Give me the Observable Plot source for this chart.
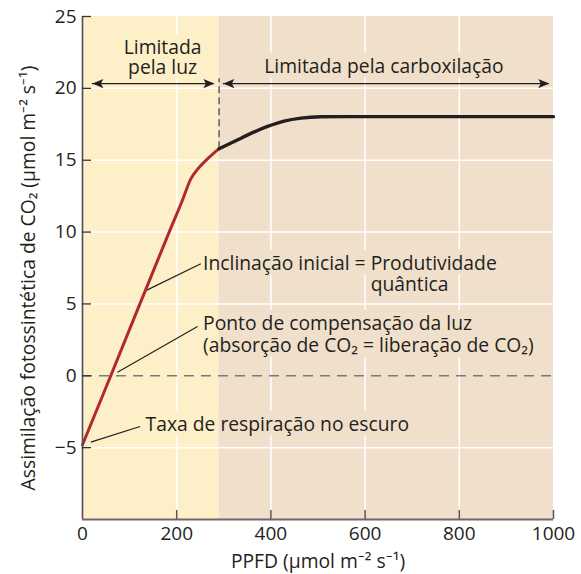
<!DOCTYPE html>
<html><head><meta charset="utf-8">
<script src="https://cdn.jsdelivr.net/npm/d3@7"></script>
<script src="https://cdn.jsdelivr.net/npm/@observablehq/plot@0.6"></script>
<style>body{margin:0;background:#fff}#chart svg{display:block}</style>
</head><body><div id="chart"></div>
<script>
// ---- data ----
const xTicks = [0, 200, 400, 600, 800, 1000];
const yTicks = [-5, 0, 5, 10, 15, 20, 25];
const xGrid = [200, 400, 600, 800];
const yGrid = [-5, 5, 10, 15, 20];
const xDomain = [0, 1000];
const yDomain = [-10, 25];
const regionBreak = 290;

// light-limited part of the response curve (red)
const lightX = [0, 60, 184, 212, 230, 245, 258, 274, 290];
const lightY = [-4.8, 0, 10, 12.2, 13.7, 14.4, 14.86, 15.35, 15.8];
// carboxylation-limited part (black)
const carbX = [290, 322, 360, 393, 428, 464, 506, 560, 1000];
const carbY = [15.8, 16.3, 16.9, 17.35, 17.72, 17.93, 18.02, 18.03, 18.03];

// region headers (two-headed arrows)
const arrowY = 20.33;
const leftArrow = [21, 280];
const rightArrow = [299, 991];
const dashTop = 20.67;

// y = baseline of the last line of each block
const lightLabel = [{text: "Limitada\npela luz", x: 170, y: 21.02}];
const carbLabel = [{text: "Limitada pela carboxilação", x: 640, y: 21.09}];
const slopeNote = [{text: "Inclinação inicial = Produtividade\nquântica", x: 256, y: 5.89}];
const compNote = [{text: "Ponto de compensação da luz\n(absorção de CO₂ = liberação de CO₂)", x: 256, y: 1.64}];
const respNote = [{text: "Taxa de respiração no escuro", x: 134, y: -3.81}];
const leaders = [
  {x1: 132.3, y1: 5.89, x2: 251.2, y2: 7.79},
  {x1: 74.3, y1: 0.25, x2: 244.2, y2: 3.43},
  {x1: 17.6, y1: -4.62, x2: 122.3, y2: -3.53}
];
const yLabel = "Assimilação fotossintética de CO₂ (µmol m⁻² s⁻¹)";
const xLabel = "PPFD (µmol m⁻² s⁻¹)";

// ---- layout / style ----
const W = 581, H = 574;
const mL = 82, mR = 28, mT = 16, mB = 55;
const frameW = W - mL - mR, frameH = H - mT - mB;
const YELLOW = "#fdf0c9", TAN = "#f0dfca";
const INK = "#231f20", RED = "#b3282d";
const FS = 19.3;

const lightCurve = lightX.map((x, i) => ({x, y: lightY[i]}));
const carbCurve = carbX.map((x, i) => ({x, y: carbY[i]}));
const regions = [
  {x1: xDomain[0], x2: regionBreak, fill: YELLOW},
  {x1: regionBreak, x2: xDomain[1], fill: TAN}
];
const arrowSegs = [
  {x1: leftArrow[0], x2: leftArrow[1]},
  {x1: rightArrow[0], x2: rightArrow[1]}
];
const headsLeft = [{x: leftArrow[0]}, {x: rightArrow[0]}];
const headsRight = [{x: leftArrow[1]}, {x: rightArrow[1]}];

const headR = {draw(c) { c.moveTo(0, 0); c.lineTo(-11, -4.6); c.lineTo(-8.5, 0); c.lineTo(-11, 4.6); c.closePath(); }};
const headL = {draw(c) { c.moveTo(0, 0); c.lineTo(11, -4.6); c.lineTo(8.5, 0); c.lineTo(11, 4.6); c.closePath(); }};

const minus = d => d < 0 ? "\u2212" + Math.abs(d) : String(d);
const note = (data, anchor, lh) => Plot.text(data, {x: "x", y: "y", text: "text", fontSize: FS,
  lineAnchor: "bottom", lineHeight: lh, textAnchor: anchor, fill: INK});

const plot = Plot.plot({
  width: W, height: H,
  marginLeft: mL, marginRight: mR, marginTop: mT, marginBottom: mB,
  style: {fontFamily: "'Open Sans', sans-serif", background: "#fff"},
  x: {domain: xDomain},
  y: {domain: yDomain},
  marks: [
    Plot.rect(regions, {x1: "x1", x2: "x2", y1: yDomain[0], y2: yDomain[1], fill: d => d.fill}),
    Plot.ruleX(xGrid, {stroke: "#fff", strokeWidth: 1.5}),
    Plot.ruleY(yGrid, {stroke: "#fff", strokeWidth: 1.5}),
    Plot.ruleY([0], {stroke: "#7a7a7a", strokeWidth: 1.6, strokeDasharray: "10,7"}),
    Plot.ruleX([regionBreak], {y1: carbY[0], y2: dashTop, stroke: "#555", strokeWidth: 1.4, strokeDasharray: "7,4"}),
    // arrows
    Plot.ruleY(arrowSegs, {y: arrowY, x1: "x1", x2: "x2", stroke: INK, strokeWidth: 1.4}),
    Plot.dot(headsLeft, {x: "x", y: arrowY, symbol: headL, fill: INK, stroke: "none", r: 5}),
    Plot.dot(headsRight, {x: "x", y: arrowY, symbol: headR, fill: INK, stroke: "none", r: 5}),
    // leaders
    Plot.link(leaders, {x1: "x1", y1: "y1", x2: "x2", y2: "y2", stroke: INK, strokeWidth: 1.2}),
    // curve
    Plot.line(lightCurve, {x: "x", y: "y", curve: "monotone-x", stroke: RED, strokeWidth: 3}),
    Plot.line(carbCurve, {x: "x", y: "y", curve: "monotone-x", stroke: INK, strokeWidth: 3.4}),
    // annotation text
    note(lightLabel, "middle", 20 / FS),
    note(carbLabel, "middle", 1),
    note(slopeNote, "start", 21.4 / FS),
    note(compNote, "start", 22.4 / FS),
    note(respNote, "start", 1),
    // axes
    Plot.ruleX([xDomain[0]], {stroke: "#4d4d4d", strokeWidth: 1.6}),
    Plot.ruleY([yDomain[0]], {stroke: "#6a6a6a", strokeWidth: 2}),
    Plot.tickX(xTicks.filter(d => d > 0), {x: d => d, stroke: "#555", strokeWidth: 1.5, insetTop: frameH - 9}),
    Plot.tickY(yTicks, {y: d => d, stroke: "#333", strokeWidth: 1.3, insetRight: frameW - 9}),
    Plot.axisX(xTicks, {tickSize: 0, tickPadding: 7, fontSize: 19, fill: INK, label: null, tickFormat: minus}),
    Plot.axisY(yTicks, {tickSize: 0, tickPadding: 6, fontSize: 19, fill: INK, label: null, tickFormat: minus}),
    Plot.text([yLabel], {text: d => d, frameAnchor: "left", rotate: -90, dx: -54, dy: 10, fontSize: FS, fill: INK, lineAnchor: "middle", textAnchor: "middle"}),
    Plot.text([xLabel], {text: d => d, frameAnchor: "bottom", dy: 48, fontSize: FS, fill: INK, lineAnchor: "bottom", textAnchor: "middle"})
  ]
});

document.getElementById("chart").appendChild(plot);

const svgEl = plot.tagName.toLowerCase() === "svg" ? plot : plot.querySelector("svg");
const svg = d3.select(svgEl);

// align "quântica" under "Produtividade"
svg.selectAll("text").each(function () {
  const spans = this.querySelectorAll("tspan");
  if (spans.length === 2 && spans[0].textContent.startsWith("Inclinação")) {
    const t = spans[0].textContent;
    const off = spans[0].getSubStringLength(0, t.indexOf("Produtividade"));
    spans[1].setAttribute("x", off.toFixed(1));
  }
});

// knock out the grid lines behind annotation text, with the local background colour
const bx = plot.scale("x").apply(regionBreak);
const root = svgEl.getBoundingClientRect();
const ruleGroups = svgEl.querySelectorAll('g[aria-label="rule"]');
const gridY = ruleGroups[1];
if (gridY) {
  const knock = document.createElementNS("http://www.w3.org/2000/svg", "g");
  knock.setAttribute("aria-hidden", "true");
  gridY.parentNode.insertBefore(knock, gridY.nextSibling);
  const pad = 2;
  const boxes = [];
  svg.selectAll('g[aria-label="text"] text').each(function () {
    const spans = this.querySelectorAll("tspan");
    const els = spans.length ? Array.from(spans) : [this];
    for (const el of els) boxes.push(el.getBoundingClientRect());
  });
  for (const r of boxes) {
    const x0 = r.left - root.left - pad, x1 = r.right - root.left + pad;
    const y0 = r.top - root.top + 1, y1 = r.bottom - root.top - 1;
    const cx = (x0 + x1) / 2, cy = (y0 + y1) / 2;
    if (cx < mL || cx > W - mR || cy < mT || cy > H - mB) continue;
    const parts = [];
    if (x0 < bx) parts.push([x0, Math.min(x1, bx), YELLOW]);
    if (x1 > bx) parts.push([Math.max(x0, bx), x1, TAN]);
    for (const [a, b, f] of parts) {
      d3.select(knock).append("rect").attr("x", a).attr("y", y0).attr("width", b - a).attr("height", y1 - y0).attr("fill", f);
    }
  }
}
</script>
</body></html>
